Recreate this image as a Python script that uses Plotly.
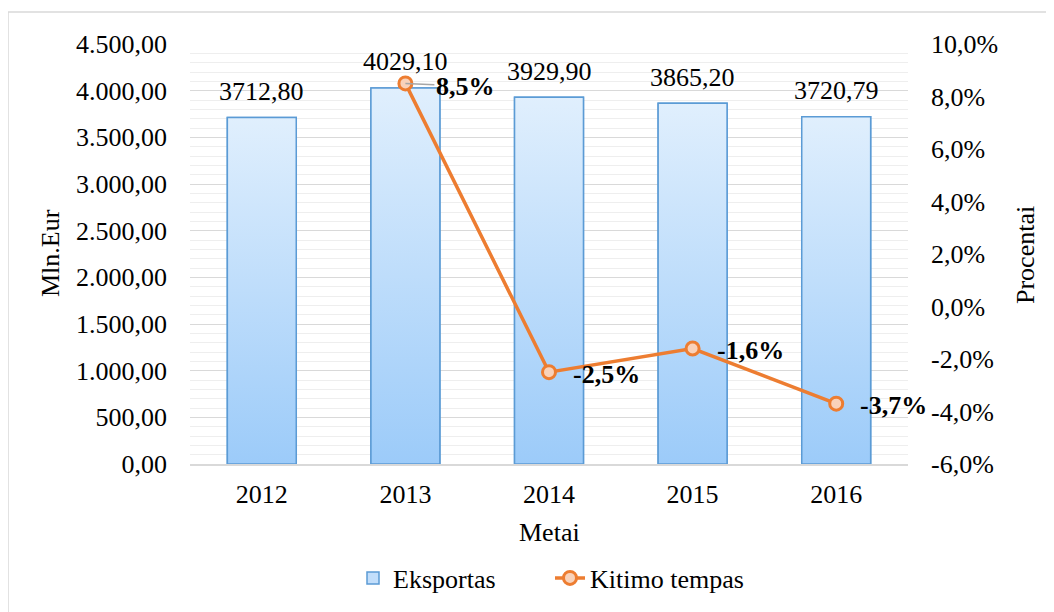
import plotly.graph_objects as go

years = ["2012", "2013", "2014", "2015", "2016"]
export_values = [3712.80, 4029.10, 3929.90, 3865.20, 3720.79]
growth_years = ["2013", "2014", "2015", "2016"]
growth_values = [8.5, -2.5, -1.6, -3.7]
pct_ticks = [-6, -4, -2, 0, 2, 4, 6, 8, 10]

FONT = "Liberation Serif, Times New Roman, serif"
W, H = 1054, 612
OFF = 8  # page body margin
PL, PT, PW, PH = 190, 44, 718, 420  # plot area in screen pixels
L, T = PL - OFF, PT - OFF
R = W - L - PW
B = H - T - PH


def px(p):
    return (p - PL) / PW


def py(p):
    return (PT + PH - p) / PH


BAR_W = 0.48
TOP_C, BOT_C, EDGE_C = "#E0EFFD", "#9CCBF9", "#5B9BD5"
ORANGE = "#ED7D31"

xi = {y: i for i, y in enumerate(years)}

fig = go.Figure()

fig.add_trace(go.Bar(
    x=[xi[y] for y in years], y=export_values, width=BAR_W,
    marker=dict(color="#C2DEFB", line=dict(color=EDGE_C, width=1.5)),
    name="Eksportas", yaxis="y", showlegend=True,
))

for y, v in zip(years, export_values):
    c = xi[y]
    fig.add_trace(go.Scatter(
        x=[c - BAR_W / 2, c - BAR_W / 2, c + BAR_W / 2, c + BAR_W / 2, c - BAR_W / 2],
        y=[0, v, v, 0, 0],
        mode="lines", fill="toself",
        fillgradient=dict(type="vertical", colorscale=[[0, BOT_C], [1, TOP_C]]),
        line=dict(color=EDGE_C, width=1.5),
        showlegend=False, hoverinfo="skip", yaxis="y",
    ))

fig.add_trace(go.Scatter(
    x=[xi[y] for y in growth_years], y=growth_values, yaxis="y2",
    mode="lines+markers", name="Kitimo tempas",
    line=dict(color=ORANGE, width=3.5),
    marker=dict(size=13, color="#F9D2BA", line=dict(color=ORANGE, width=3)),
))

annotations = []
for y, v in zip(years, export_values):
    annotations.append(dict(
        x=xi[y], y=v, xref="x", yref="y", text=f"{v:.2f}".replace(".", ","),
        showarrow=False, xanchor="center", yanchor="middle", yshift=26,
        font=dict(family=FONT, size=26, color="#000000"),
    ))
for i, (y, v) in enumerate(zip(growth_years, growth_values)):
    txt = f"{v:.1f}".replace(".", ",") + "%"
    if i == 0:
        annotations.append(dict(
            x=xi[y], y=v, xref="x", yref="y2", text=f"<b>{txt}</b>",
            showarrow=True, arrowhead=0, arrowwidth=1.5, arrowcolor="#A6A6A6",
            ax=60, ay=3, font=dict(family=FONT, size=26, color="#000000"),
        ))
    else:
        annotations.append(dict(
            x=xi[y], y=v, xref="x", yref="y2", text=f"<b>{txt}</b>",
            showarrow=False, xanchor="left", yanchor="middle", xshift=22, yshift=-2,
            font=dict(family=FONT, size=26, color="#000000"),
        ))

annotations += [
    dict(x=px(549), y=py(532), xref="paper", yref="paper", xanchor="center", yanchor="middle",
         text="Metai", showarrow=False, font=dict(family=FONT, size=26, color="#000")),
    dict(x=px(50), y=py(253), xref="paper", yref="paper", xanchor="center", yanchor="middle",
         text="Mln.Eur", textangle=-90, showarrow=False,
         font=dict(family=FONT, size=26, color="#000")),
    dict(x=px(1025), y=py(255), xref="paper", yref="paper", xanchor="center", yanchor="middle",
         text="Procentai", textangle=-90, showarrow=False,
         font=dict(family=FONT, size=26, color="#000")),
]

fig.update_layout(
    width=W, height=H,
    margin=dict(l=L, r=R, t=T, b=B, autoexpand=False),
    paper_bgcolor="white", plot_bgcolor="white",
    separators=",.",
    font=dict(family=FONT, size=26, color="#000000"),
    barmode="overlay",
    xaxis=dict(
        range=[-0.5, 4.5], tickmode="array", tickvals=list(range(len(years))), ticktext=years,
        showgrid=False, zeroline=False, showline=True, linecolor="#D9D9D9", linewidth=1.5,
        ticks="", ticklabelstandoff=6, tickfont=dict(family=FONT, size=26),
    ),
    yaxis=dict(
        range=[0, 4500], tickmode="linear", tick0=0, dtick=500, tickformat=",.2f",
        showgrid=True, gridcolor="#D9D9D9", gridwidth=1.3, zeroline=False,
        minor=dict(dtick=100, showgrid=True, gridcolor="#EEEEEE", gridwidth=1),
        ticks="", ticklabelstandoff=22, tickfont=dict(family=FONT, size=26),
    ),
    yaxis2=dict(
        range=[-6, 10], overlaying="y", side="right", tickmode="array",
        tickvals=pct_ticks, ticktext=[f"{t:.1f}".replace(".", ",") + "%" for t in pct_ticks],
        showgrid=False, zeroline=False,
        ticks="", ticklabelstandoff=22, tickfont=dict(family=FONT, size=26),
    ),
    legend=dict(
        orientation="h", x=px(353), xanchor="left", y=py(578),
        yanchor="middle", font=dict(family=FONT, size=26), bgcolor="rgba(0,0,0,0)",
        entrywidth=152, entrywidthmode="pixels",
    ),
    annotations=annotations,
    shapes=[dict(
        type="rect", xref="paper", yref="paper",
        x0=px(8), x1=px(1070), y0=py(640), y1=py(12),
        line=dict(color="#D9D9D9", width=1.5), fillcolor="rgba(0,0,0,0)", layer="below",
    )],
)

fig.write_html("out.html")
